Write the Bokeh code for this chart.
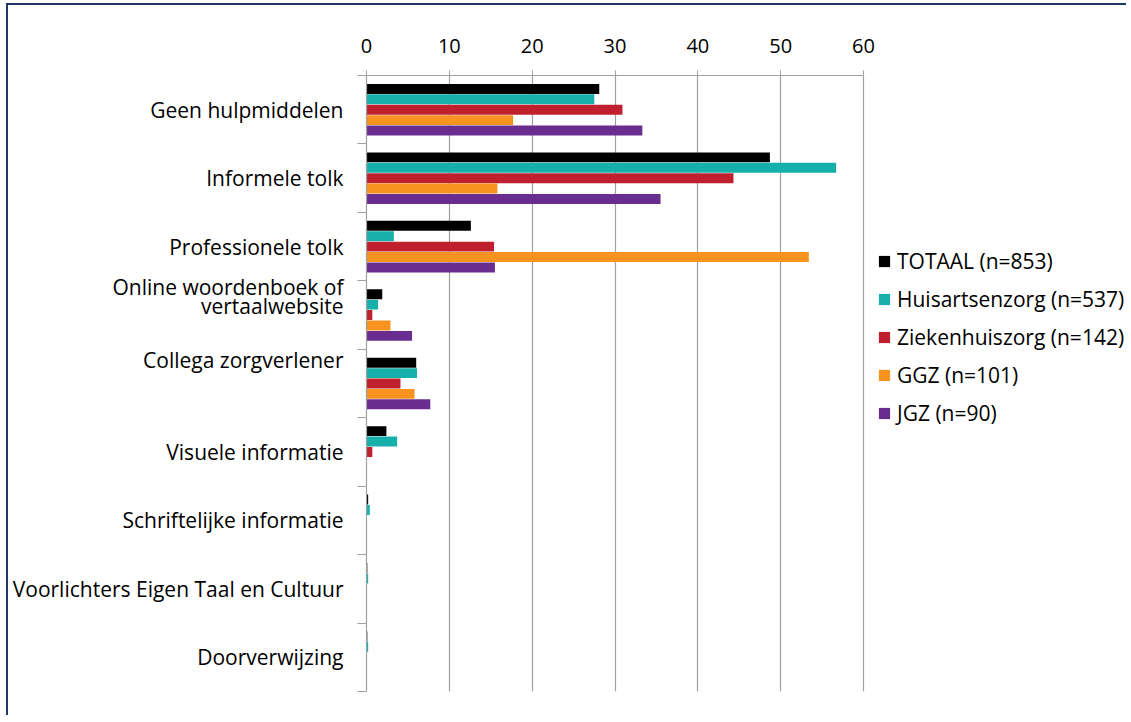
from bokeh.plotting import figure
from bokeh.models import (Range1d, LinearAxis, FixedTicker,
                          Legend, LegendItem, ColumnDataSource)
from bokeh.transform import dodge
from bokeh.embed import file_html
from bokeh.resources import INLINE

categories = [
    "Geen hulpmiddelen",
    "Informele tolk",
    "Professionele tolk",
    "Online woordenboek of\nvertaalwebsite",
    "Collega zorgverlener",
    "Visuele informatie",
    "Schriftelijke informatie",
    "Voorlichters Eigen Taal en Cultuur",
    "Doorverwijzing",
]
series_names = ["TOTAAL (n=853)", "Huisartsenzorg (n=537)", "Ziekenhuiszorg (n=142)",
                "GGZ (n=101)", "JGZ (n=90)"]
totaal = [28.1, 48.7, 12.6, 1.9, 6.0, 2.4, 0.2, 0.1, 0.1]
huisarts = [27.5, 56.7, 3.3, 1.4, 6.1, 3.7, 0.4, 0.2, 0.2]
ziekenhuis = [30.9, 44.3, 15.4, 0.7, 4.1, 0.7, 0.0, 0.0, 0.0]
ggz = [17.7, 15.8, 53.4, 2.9, 5.8, 0.0, 0.0, 0.0, 0.0]
jgz = [33.3, 35.5, 15.5, 5.5, 7.7, 0.0, 0.0, 0.0, 0.0]
x_ticks = [0, 10, 20, 30, 40, 50, 60]

colors = ["#000000", "#17AFAA", "#C0202E", "#F7931E", "#682D8E"]
FONT = "Open Sans"
FS = "21px"

n = len(categories)
centers = [i + 0.5 for i in range(n)]
src = ColumnDataSource(dict(pos=centers, s0=totaal, s1=huisarts, s2=ziekenhuis,
                            s3=ggz, s4=jgz))

# plot area runs on to the right edge so the legend can sit inside it;
# axis and grid are bounded to 0..60
FRAME_L, WIDTH, RIGHT_BORDER = 358, 1120, 2
AXIS_PX = 497  # pixels from 0 to 60
x_end = 60 * (WIDTH - FRAME_L - RIGHT_BORDER) / AXIS_PX

p = figure(width=WIDTH, height=712, output_backend="svg", toolbar_location=None,
           y_range=Range1d(n, 0), x_range=Range1d(0, x_end),
           x_axis_location="above", y_axis_location=None,
           min_border_left=FRAME_L, min_border_top=70, min_border_bottom=26,
           min_border_right=RIGHT_BORDER)
p.outline_line_color = None
p.ygrid.grid_line_color = None
p.xgrid.grid_line_color = "#A0A0A0"
p.xgrid.grid_line_width = 1.2
p.xgrid.ticker = FixedTicker(ticks=x_ticks)
p.xgrid.bounds = (0, 60)

xa = p.xaxis[0]
xa.ticker = FixedTicker(ticks=x_ticks)
xa.bounds = (0, 60)
xa.axis_line_color = "#A0A0A0"
xa.axis_line_width = 1.2
xa.major_tick_line_color = "#A0A0A0"
xa.major_tick_out = 5
xa.major_tick_in = 0
xa.minor_tick_line_color = None
xa.major_label_text_font = FONT
xa.major_label_text_font_size = "20px"
xa.major_label_text_color = "#000000"
xa.major_label_standoff = 18

# boundary ticks axis
ta = LinearAxis(ticker=FixedTicker(ticks=list(range(n + 1))),
                major_label_overrides={i: "" for i in range(n + 1)})
ta.axis_line_color = "#A0A0A0"
ta.axis_line_width = 1.2
ta.major_tick_line_color = "#A0A0A0"
ta.major_tick_line_width = 1.2
ta.major_tick_out = 9
ta.major_tick_in = 0
ta.minor_tick_line_color = None
ta.major_label_standoff = 0
ta.major_label_text_font_size = "1px"
p.add_layout(ta, "left")

# category label axis (two labels sit a little higher, as in the original)
label_shift = {3: -0.27, 4: -0.34}
label_pos = [c + label_shift.get(i, 0) for i, c in enumerate(centers)]
ca = LinearAxis(ticker=FixedTicker(ticks=label_pos),
                major_label_overrides={c: lab for c, lab in zip(label_pos, categories)})
ca.axis_line_color = None
ca.major_tick_line_color = None
ca.minor_tick_line_color = None
ca.major_label_text_font = FONT
ca.major_label_text_font_size = FS
ca.major_label_text_color = "#000000"
ca.major_label_text_line_height = 0.65
ca.major_label_standoff = 8
p.add_layout(ca, "left")

items = []
step = 0.152
for j, col in enumerate(["s0", "s1", "s2", "s3", "s4"]):
    r = p.hbar(y=dodge("pos", (j - 2) * step), left=0, right=col,
               height=0.145, source=src, fill_color=colors[j], line_color=None)
    items.append(LegendItem(label=series_names[j], renderers=[r]))

leg = Legend(items=items, location=(511, 264), orientation="vertical")
leg.label_text_font = FONT
leg.label_text_font_size = FS
leg.label_text_color = "#000000"
leg.glyph_width = 14
leg.glyph_height = 14
leg.label_height = 20
leg.label_standoff = 6
leg.spacing = 10
leg.padding = 0
leg.margin = 0
leg.border_line_color = None
leg.background_fill_alpha = 0
p.add_layout(leg)

p.styles = {"border-top": "2px solid #1F3864", "border-left": "2px solid #1F3864",
            "margin-left": "6px", "margin-top": "3px"}

open("out.html", "w").write(file_html(p, INLINE))
